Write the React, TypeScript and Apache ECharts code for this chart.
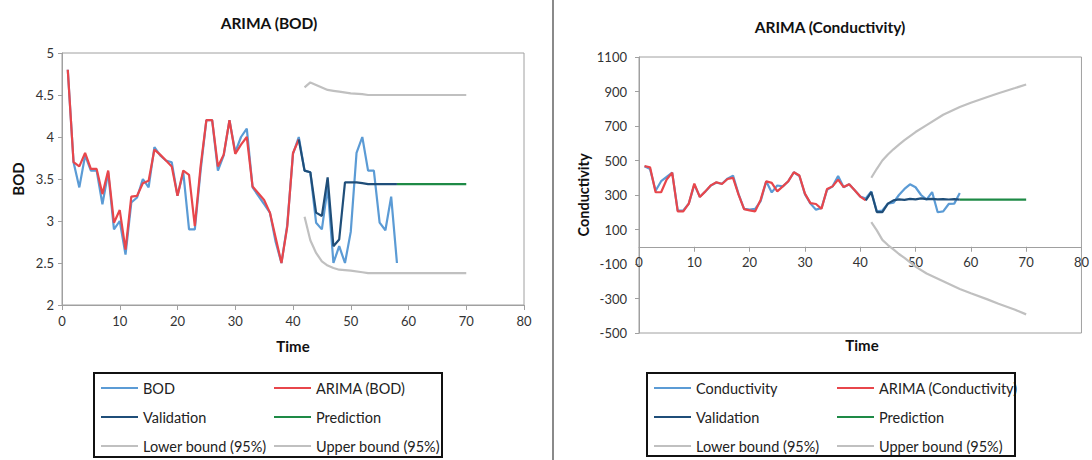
import React, { useEffect, useRef } from "react";
import * as echarts from "echarts";

// ---------- Left chart: BOD ----------
const bodObserved = [
  4.8, 3.7, 3.4, 3.78, 3.6, 3.6, 3.2, 3.58, 2.9, 3.0,
  2.6, 3.22, 3.28, 3.5, 3.4, 3.88, 3.78, 3.72, 3.7, 3.3,
  3.58, 2.9, 2.9, 3.6, 4.2, 4.2, 3.6, 3.78, 4.2, 3.82,
  4.0, 4.1, 3.4, 3.3, 3.2, 3.1, 2.75, 2.5, 2.95, 3.8,
  4.0, 3.6, 3.58, 2.98, 2.9, 3.4, 2.5, 2.7, 2.5, 2.87,
  3.81, 4.0, 3.6, 3.6, 2.98, 2.89, 3.29, 2.5,
]; // t = 1..58
const bodArima = [
  4.8, 3.7, 3.65, 3.81, 3.62, 3.62, 3.32, 3.6, 2.98, 3.13,
  2.66, 3.29, 3.3, 3.45, 3.48, 3.85, 3.79, 3.72, 3.65, 3.3,
  3.6, 3.55, 2.94, 3.65, 4.2, 4.2, 3.65, 3.79, 4.2, 3.8,
  3.91, 4.0, 3.41, 3.33, 3.25, 3.1, 2.8, 2.5, 2.93, 3.81,
  3.97,
]; // t = 1..41
const bodValidationStart = 41;
const bodValidation = [
  3.97, 3.6, 3.58, 3.1, 3.06, 3.52, 2.7, 2.78, 3.46, 3.46,
  3.46, 3.45, 3.44, 3.44, 3.44, 3.44, 3.44, 3.44,
]; // t = 41..58
const bodPredictionTime = [58, 70];
const bodPrediction = [3.44, 3.44];
const bodBoundTime = [42, 43, 44, 45, 46, 47, 48, 50, 52, 53, 70];
const bodLower = [3.05, 2.77, 2.62, 2.52, 2.47, 2.44, 2.42, 2.41, 2.39, 2.38, 2.38];
const bodUpper = [4.59, 4.65, 4.62, 4.59, 4.56, 4.55, 4.54, 4.52, 4.51, 4.5, 4.5];

// ---------- Right chart: Conductivity ----------
const condObserved = [
  467, 450, 325, 380, 405, 430, 210, 210, 250, 360,
  290, 320, 355, 372, 365, 395, 412, 305, 220, 215,
  220, 265, 380, 315, 355, 350, 380, 432, 410, 305,
  250, 215, 225, 330, 350, 410, 345, 362, 327, 291,
  280, 320, 205, 210, 250, 255, 300, 335, 362, 345,
  300, 273, 317, 200, 205, 248, 250, 311,
]; // t = 1..58
const condArima = [
  467, 461, 316, 316, 390, 430, 205, 205, 250, 366,
  288, 321, 356, 374, 364, 393, 399, 302, 218, 211,
  205, 273, 380, 370, 321, 350, 380, 432, 413, 308,
  253, 248, 220, 335, 350, 389, 346, 362, 327, 291,
  269,
]; // t = 1..41
const condValidationStart = 41;
const condValidation = [
  269, 317, 201, 201, 250, 269, 275, 272, 278, 275,
  280, 276, 278, 275, 276, 274, 276, 273,
]; // t = 41..58
const condPredictionTime = [58, 70];
const condPrediction = [273, 273];
const condBoundTime = [42, 43, 44, 45, 46, 47, 48, 50, 52, 55, 58, 60, 63, 65, 68, 70];
const condLower = [143, 95, 40, 10, -15, -42, -65, -115, -155, -200, -245, -270, -305, -330, -365, -392];
const condUpper = [400, 452, 500, 535, 565, 592, 618, 665, 705, 765, 810, 835, 868, 890, 920, 941];
const condTickValues = [-500, -300, -100, 100, 300, 500, 700, 900, 1100];

// ---------- styling ----------
const FONT = "Lato, 'Open Sans', sans-serif";
const C_OBS = "#5B9BD5";
const C_ARIMA = "#E8464B";
const C_VAL = "#1F4E79";
const C_PRED = "#1E8A46";
const C_BOUND = "#C0C0C0";
const AXIS_GRAY = "#A0A0A0";

const fromStart = (vals: number[], start: number) => vals.map((v, i) => [start + i, v]);
const pairs = (ts: number[], vals: number[]) => ts.map((t, i) => [t, vals[i]]);

function lineSeries(name: string, color: string, data: number[][], idx: number, z = 2) {
  return {
    type: "line",
    name,
    data,
    xAxisIndex: idx,
    yAxisIndex: idx,
    color,
    symbol: "none",
    z,
    lineStyle: { color, width: 2.2 },
  };
}

function legendCol(data: string[], left: number) {
  return {
    data,
    orient: "vertical",
    left,
    top: 380,
    height: 90,
    padding: 0,
    icon: "rect",
    itemWidth: 37,
    itemHeight: 2,
    itemGap: 13,
    selectedMode: false,
    textStyle: { fontFamily: FONT, fontSize: 14.5, lineHeight: 16, color: "#222" },
  };
}

const tickLabel = { fontFamily: FONT, fontSize: 13, color: "#333", formatter: (v: number) => String(v) };

export default function App() {
  const ref = useRef<HTMLDivElement>(null);
  useEffect(() => {
    document.body.style.margin = "0";
    const chart = echarts.init(ref.current!, null, { renderer: "svg" });
    const option = {
      animation: false,
      backgroundColor: "#fff",
      grid: [
        { left: 62, top: 53, width: 462, height: 252, show: true, borderColor: AXIS_GRAY, borderWidth: 1 },
        { left: 639, top: 57, width: 446, height: 276, show: true, borderColor: AXIS_GRAY, borderWidth: 1 },
      ],
      xAxis: [
        {
          type: "value", gridIndex: 0, min: 0, max: 80, interval: 10,
          axisLine: { show: true, lineStyle: { color: AXIS_GRAY, width: 1 } },
          axisTick: { show: true, length: 5, lineStyle: { color: AXIS_GRAY } },
          axisLabel: { ...tickLabel, margin: 9 },
          splitLine: { show: false },
          name: "Time", nameLocation: "middle", nameGap: 33,
          nameTextStyle: { fontFamily: FONT, fontSize: 15, fontWeight: "bold", color: "#111" },
        },
        {
          type: "value", gridIndex: 1, min: 0, max: 80, interval: 10,
          offset: -86.25,
          axisLine: { show: true, onZero: false, lineStyle: { color: AXIS_GRAY, width: 1 } },
          axisTick: { show: true, length: 5, lineStyle: { color: AXIS_GRAY } },
          axisLabel: { ...tickLabel, margin: 9 },
          splitLine: { show: false },
        },
      ],
      yAxis: [
        {
          type: "value", gridIndex: 0, min: 2, max: 5, interval: 0.5,
          axisLine: { show: true, lineStyle: { color: AXIS_GRAY, width: 1 } },
          axisTick: { show: true, length: 4, lineStyle: { color: AXIS_GRAY } },
          axisLabel: { ...tickLabel, margin: 8 },
          splitLine: { show: false },
          name: "BOD", nameLocation: "middle", nameGap: 37,
          nameTextStyle: { fontFamily: FONT, fontSize: 15, fontWeight: "bold", color: "#111" },
        },
        {
          type: "value", gridIndex: 1, min: -500, max: 1100,
          axisLine: { show: true, onZero: false, lineStyle: { color: AXIS_GRAY, width: 1 } },
          axisTick: { show: true, length: 4, customValues: condTickValues, lineStyle: { color: AXIS_GRAY } },
          axisLabel: { ...tickLabel, margin: 12, customValues: condTickValues },
          splitLine: { show: false },
          name: "Conductivity", nameLocation: "middle", nameGap: 48,
          nameTextStyle: { fontFamily: FONT, fontSize: 14.5, fontWeight: "bold", color: "#111" },
        },
      ],
      legend: [
        legendCol(["BOD", "Validation", "Lower bound (95%)"], 101),
        legendCol(["ARIMA (BOD)", "Prediction", "Upper bound (95%)"], 274),
        legendCol(["Conductivity", "Validation", "Lower bound (95%)"], 654),
        legendCol(["ARIMA (Conductivity)", "Prediction", "Upper bound (95%)"], 837),
      ],
      graphic: [
        { type: "line", shape: { x1: 553, y1: 0, x2: 553, y2: 460 }, style: { stroke: "#8A8A8A", lineWidth: 2 } },
        { type: "rect", shape: { x: 94, y: 373, width: 348, height: 84 }, style: { fill: "none", stroke: "#111", lineWidth: 2 }, z: 10 },
        { type: "rect", shape: { x: 647, y: 373, width: 368, height: 83 }, style: { fill: "none", stroke: "#111", lineWidth: 2 }, z: 10 },
        {
          type: "text", x: 269, y: 23,
          style: { text: "ARIMA (BOD)", fontFamily: FONT, fontSize: 15.5, fontWeight: "bold", fill: "#111", textAlign: "center", textVerticalAlign: "middle" },
        },
        {
          type: "text", x: 830, y: 27,
          style: { text: "ARIMA (Conductivity)", fontFamily: FONT, fontSize: 15.5, fontWeight: "bold", fill: "#111", textAlign: "center", textVerticalAlign: "middle" },
        },
        {
          type: "text", x: 862, y: 345,
          style: { text: "Time", fontFamily: FONT, fontSize: 15, fontWeight: "bold", fill: "#111", textAlign: "center", textVerticalAlign: "middle" },
        },
      ],
      series: [
        lineSeries("BOD", C_OBS, fromStart(bodObserved, 1), 0, 2),
        lineSeries("ARIMA (BOD)", C_ARIMA, fromStart(bodArima, 1), 0, 3),
        lineSeries("Validation", C_VAL, fromStart(bodValidation, bodValidationStart), 0, 4),
        lineSeries("Prediction", C_PRED, pairs(bodPredictionTime, bodPrediction), 0, 3),
        lineSeries("Lower bound (95%)", C_BOUND, pairs(bodBoundTime, bodLower), 0, 2),
        lineSeries("Upper bound (95%)", C_BOUND, pairs(bodBoundTime, bodUpper), 0, 2),

        lineSeries("Conductivity", C_OBS, fromStart(condObserved, 1), 1, 2),
        lineSeries("ARIMA (Conductivity)", C_ARIMA, fromStart(condArima, 1), 1, 3),
        lineSeries("Validation", C_VAL, fromStart(condValidation, condValidationStart), 1, 4),
        lineSeries("Prediction", C_PRED, pairs(condPredictionTime, condPrediction), 1, 3),
        lineSeries("Lower bound (95%)", C_BOUND, pairs(condBoundTime, condLower), 1, 2),
        lineSeries("Upper bound (95%)", C_BOUND, pairs(condBoundTime, condUpper), 1, 2),
      ],
    };
    chart.setOption(option as any);
    return () => chart.dispose();
  }, []);
  return <div ref={ref} style={{ width: 1092, height: 460 }} />;
}
